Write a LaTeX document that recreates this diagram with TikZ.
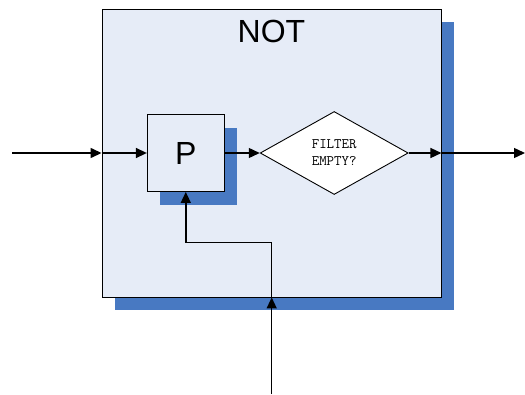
\documentclass[tikz,border=0pt]{standalone}
\usepackage{fontspec}
\setmainfont{Liberation Sans}
\usetikzlibrary{arrows.meta,shapes.geometric,shadows}

\definecolor{boxfill}{RGB}{230,236,247}
\definecolor{shadowblue}{RGB}{72,121,194}

\tikzset{
  blockshadow/.style={drop shadow={shadow xshift=13pt,shadow yshift=-13pt,fill=shadowblue,opacity=1}},
  blockbox/.style={draw,line width=0.9pt,fill=boxfill,blockshadow},
  flow/.style={line width=1.4pt,-{Triangle[length=11pt,width=10pt]}}
}

\begin{document}
\begin{tikzpicture}[x=1pt,y=-1pt]
\useasboundingbox (0,0) rectangle (525,394);

\node[blockbox,minimum width=339pt,minimum height=288pt] (frame) at (271.5,153) {};
\node[font=\fontsize{32}{36}\selectfont] (title) at (271.5,31) {NOT};

\node[blockbox,minimum width=77pt,minimum height=77pt,font=\fontsize{32}{36}\selectfont] (P) at (185.8,153) {P};
\node[draw,line width=0.9pt,fill=white,diamond,aspect=1.8,inner sep=0pt,
      minimum width=148pt,minimum height=83pt,align=center,
      font=\ttfamily\fontsize{14.5}{17}\selectfont] (filter) at (334.2,153)
      {FILTER\\EMPTY?};

\coordinate (in) at (12,153);
\coordinate (out) at (525,153);
\coordinate (feed) at (271.7,394);
\coordinate (bend) at (271.7,242.7);

% main line
\draw[flow] (in) -- (frame.west);
\draw[flow] (frame.west) -- (P.west);
\draw[flow] (P.east) -- (filter.west);
\draw[flow] (filter.east) -- (frame.east);
\draw[flow] (frame.east) -- (out);

% feedback into P
\draw[flow] (feed) -- (feed |- frame.south);
\draw[flow] (feed |- frame.south) -- (bend) -| (P.south);

\end{tikzpicture}
\end{document}
